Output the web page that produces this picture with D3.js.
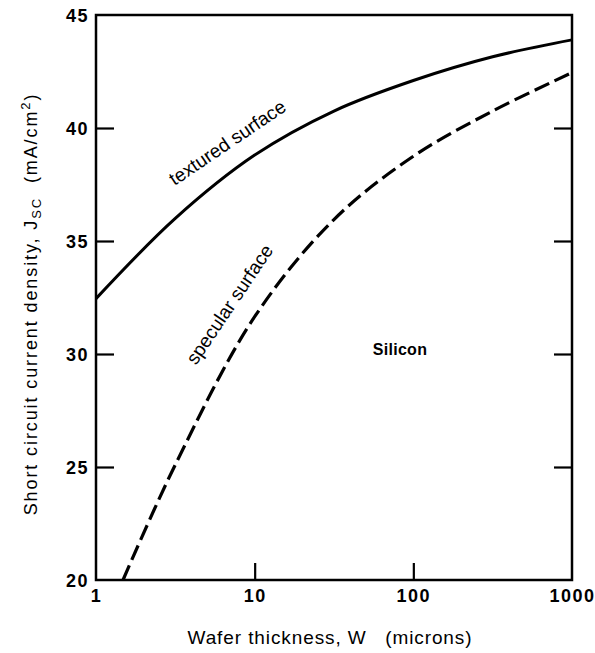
<!DOCTYPE html>
<html>
<head>
<meta charset="utf-8">
<script src="https://cdn.jsdelivr.net/npm/d3@7"></script>
<style>
  html, body { margin: 0; padding: 0; background: #fff; }
  svg { display: block; font-family: "Liberation Sans", Arial, sans-serif; }
</style>
</head>
<body>
<svg id="chart" width="595" height="653"></svg>
<script>
// ---- data ----
const xTicks = [1, 10, 100, 1000];
const yTicks = [20, 25, 30, 35, 40, 45];

const texturedW = [1, 3.16, 10, 31.6, 100, 316, 1000];
const texturedJ = [32.45, 36.0, 38.8, 40.75, 42.1, 43.15, 43.9];

const specularW = [1.48, 3.16, 10, 31.6, 100, 316, 1000];
const specularJ = [20, 25.1, 31.65, 35.95, 38.75, 40.75, 42.45];

// ---- layout ----
const svg = d3.select("#chart");
const L = 96, R = 572, T = 15, B = 580;

const x = d3.scaleLog().domain([1, 1000]).range([L, R]);
const y = d3.scaleLinear().domain([20, 45]).range([B, T]);

const line = d3.line()
  .x(d => x(d[0])).y(d => y(d[1]))
  .curve(d3.curveCatmullRom.alpha(0.5));

// curves
svg.append("path")
  .datum(texturedW.map((w, i) => [w, texturedJ[i]]))
  .attr("d", line)
  .attr("fill", "none").attr("stroke", "#000").attr("stroke-width", 3);

svg.append("path")
  .datum(specularW.map((w, i) => [w, specularJ[i]]))
  .attr("d", line)
  .attr("fill", "none").attr("stroke", "#000").attr("stroke-width", 3.2)
  .attr("stroke-dasharray", "16,6");

// frame
svg.append("rect")
  .attr("x", L).attr("y", T).attr("width", R - L).attr("height", B - T)
  .attr("fill", "none").attr("stroke", "#000").attr("stroke-width", 2.5);

// axes with inward ticks
const axB = svg.append("g").attr("transform", `translate(0,${B})`)
  .call(d3.axisBottom(x).tickValues(xTicks).tickSize(-17).tickFormat(d3.format("d")));
const axL = svg.append("g").attr("transform", `translate(${L},0)`)
  .call(d3.axisLeft(y).tickValues(yTicks).tickSize(-18).tickFormat(d3.format("d")));
const axR = svg.append("g").attr("transform", `translate(${R},0)`)
  .call(d3.axisRight(y).tickValues(yTicks.slice(1, -1)).tickSize(-18).tickFormat(""));

[axB, axL, axR].forEach(g => {
  g.select(".domain").remove();
  g.selectAll(".tick line").attr("stroke", "#000").attr("stroke-width", 2.2);
  g.selectAll(".tick text")
    .attr("fill", "#000").attr("font-size", 18).attr("font-weight", "bold")
    .attr("letter-spacing", 1.5)
    .attr("font-family", "'Liberation Sans', Arial, sans-serif");
});
// hide ticks that coincide with frame corners
axB.selectAll(".tick").filter(d => d === 1 || d === 1000).select("line").remove();
axL.selectAll(".tick").filter(d => d === 20 || d === 45).select("line").remove();
axL.selectAll(".tick text").attr("x", -7).attr("dy", "0.36em");
axB.selectAll(".tick text").attr("y", 9).attr("dy", "0.71em");

// axis titles
svg.append("text")
  .attr("x", 330).attr("y", 644)
  .attr("text-anchor", "middle").attr("font-size", 19).attr("fill", "#000")
  .attr("letter-spacing", 0.9)
  .attr("xml:space", "preserve")
  .text("Wafer thickness, W   (microns)");

const yt = svg.append("text")
  .attr("transform", "translate(37,304) rotate(-90)")
  .attr("text-anchor", "middle").attr("font-size", 18).attr("fill", "#000")
  .attr("letter-spacing", 1.9)
  .attr("xml:space", "preserve");
yt.append("tspan").text("Short circuit current density, J");
yt.append("tspan").attr("font-size", 13).attr("dy", 4).text("SC");
yt.append("tspan").attr("dy", -4).text("  (mA/cm");
yt.append("tspan").attr("font-size", 13).attr("dy", -7).text("2");
yt.append("tspan").attr("dy", 7).text(")");

// annotations
svg.append("text")
  .attr("transform", "translate(231,148) rotate(-34)")
  .attr("text-anchor", "middle").attr("font-size", 19).attr("fill", "#000")
  .text("textured surface");

svg.append("text")
  .attr("transform", "translate(235,308) rotate(-56)")
  .attr("text-anchor", "middle").attr("font-size", 19).attr("fill", "#000")
  .text("specular surface");

svg.append("text")
  .attr("x", 400).attr("y", 355)
  .attr("text-anchor", "middle").attr("font-size", 16).attr("font-weight", "bold").attr("fill", "#000")
  .attr("letter-spacing", 0.3)
  .text("Silicon");
</script>
</body>
</html>
